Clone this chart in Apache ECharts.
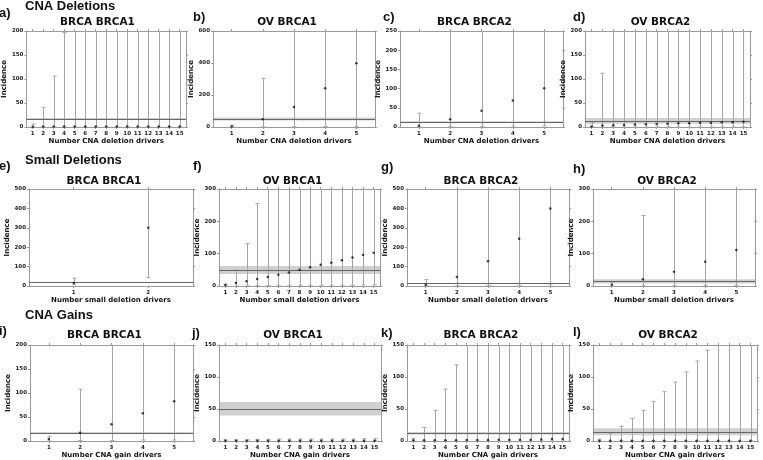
<!DOCTYPE html>
<html>
<head>
<meta charset="utf-8">
<script src="https://cdn.jsdelivr.net/npm/echarts@6/dist/echarts.min.js"></script>
<style>
  html, body { margin: 0; padding: 0; background: #fff; }
  #chart { width: 763px; height: 460px; }
</style>
</head>
<body>
<div id="chart"></div>
<script>
// panel meta
var sectionNames = ['CNA Deletions', 'Small Deletions', 'CNA Gains'];
var panelLetters = ['a)', 'b)', 'c)', 'd)', 'e)', 'f)', 'g)', 'h)', 'i)', 'j)', 'k)', 'l)'];
var panelTitles = ['BRCA BRCA1', 'OV BRCA1', 'BRCA BRCA2', 'OV BRCA2',
                   'BRCA BRCA1', 'OV BRCA1', 'BRCA BRCA2', 'OV BRCA2',
                   'BRCA BRCA1', 'OV BRCA1', 'BRCA BRCA2', 'OV BRCA2'];
var xAxisNames = ['Number CNA deletion drivers', 'Number small deletion drivers', 'Number CNA gain drivers'];
var driverCounts = [15, 5, 5, 15, 2, 15, 5, 5, 5, 15, 15, 15];
var yMaxes = [200, 600, 250, 200, 500, 300, 500, 300, 200, 150, 150, 150];
var yIntervals = [50, 200, 50, 50, 100, 100, 100, 100, 50, 50, 50, 50];

// expected incidence line and its band
var expectedMid = [17, 50, 13, 12, 17, 48, 14, 14, 17, 50, 12, 14];
var expectedLow = [15, 40, 11, 7, 15, 37, 12, 8, 15, 40, 10, 9];
var expectedHigh = [19, 60, 15, 19, 19, 62, 16, 21, 19, 61, 14, 20];

// observed points with lower / upper bounds
var aPoints = [0.5, 1, 1, 1, 1, 1, 1, 1, 1, 1, 1, 1, 1, 1, 1];
var aLow = [0, 0, 0, 0, 0, 0, 0, 0, 0, 0, 0, 0, 0, 0, 0];
var aHigh = [6, 41, 106, 197, 280, 350, 420, 500, 560, 640, 700, 780, 850, 920, 990];

var bPoints = [3, 48, 125, 242, 398];
var bLow = [0, 1, 2, 3, 4];
var bHigh = [12, 304, 700, 850, 1000];

var cPoints = [3, 20, 42, 69, 101];
var cLow = [0, 1, 1, 2, 3];
var cHigh = [36, 300, 380, 460, 560];

var dPoints = [1, 3, 3.5, 4, 5, 5.5, 6, 7, 8, 8, 9, 9, 10, 10, 11];
var dLow = [0, 0, 0, 0, 0, 0, 0, 0, 0, 0, 0, 0, 0, 0, 0];
var dHigh = [9, 112, 230, 280, 330, 380, 420, 470, 510, 560, 600, 650, 690, 740, 780];

var ePoints = [15, 300];
var eLow = [6, 43];
var eHigh = [40, 640];

var fPoints = [3, 9, 15, 22, 28, 35, 42, 50, 58, 66, 72, 80, 88, 96, 103];
var fLow = [0, 0, 1, 1, 1, 1, 1, 2, 2, 2, 2, 2, 2, 3, 3];
var fHigh = [6, 49, 131, 255, 390, 450, 520, 580, 640, 700, 760, 820, 880, 940, 1000];

var gPoints = [7, 46, 127, 244, 399];
var gLow = [1, 2, 3, 4, 5];
var gHigh = [33, 600, 750, 900, 1100];

var hPoints = [4, 21, 44, 75, 111];
var hLow = [0, 1, 1, 2, 2];
var hHigh = [12, 218, 340, 420, 520];

var iPoints = [4, 17, 35, 58, 83];
var iLow = [0, 1, 1, 2, 2];
var iHigh = [10, 108, 230, 300, 380];

var jPoints = [0.3, 0.3, 0.3, 0.3, 0.3, 0.3, 0.3, 0.3, 0.3, 0.3, 0.3, 0.3, 0.3, 0.3, 0.3];
var jLow = [0, 0, 0, 0, 0, 0, 0, 0, 0, 0, 0, 0, 0, 0, 0];
var jHigh = [2, 2, 2, 2.5, 2.5, 3, 3, 3, 3, 3, 3, 3, 3, 3.5, 3.5];

var kPoints = [1, 1, 1, 1, 1, 1.5, 1.5, 1.5, 2, 2, 2, 2, 2.5, 3, 3];
var kLow = [0, 0, 0, 0, 0, 0, 0, 0, 0, 0, 0, 0, 0, 0, 0];
var kHigh = [4, 21, 48, 81, 119, 160, 200, 240, 280, 320, 360, 400, 440, 480, 520];

var lPoints = [0.3, 0.3, 0.3, 0.3, 0.3, 0.3, 0.3, 0.3, 0.3, 0.3, 0.3, 0.3, 0.3, 0.3, 0.3];
var lLow = [0, 0, 0, 0, 0, 0, 0, 0, 0, 0, 0, 0, 0, 0, 0];
var lHigh = [3, 12.5, 23, 35, 48, 62, 77, 92, 108, 125, 142, 160, 178, 196, 215];

var panelPoints = [aPoints, bPoints, cPoints, dPoints, ePoints, fPoints, gPoints, hPoints, iPoints, jPoints, kPoints, lPoints];
var panelLow = [aLow, bLow, cLow, dLow, eLow, fLow, gLow, hLow, iLow, jLow, kLow, lLow];
var panelHigh = [aHigh, bHigh, cHigh, dHigh, eHigh, fHigh, gHigh, hHigh, iHigh, jHigh, kHigh, lHigh];

// layout (px)
var rowTops = [31, 189, 345];
var rowHeights = [96, 97, 96];
var colLefts = [[23, 213, 400, 585], [29, 219, 407, 593], [30, 219, 407, 593]];
var colRights = [[186, 375, 563, 750], [193, 380, 569, 755], [193, 381, 569, 757]];
var titleY = [22, 181, 335];
var sectionY = [6, 160, 315];
var letterPos = [[-1, 13], [193, 17], [383, 17], [573, 17],
                 [-1, 166], [193, 166], [381, 167], [573, 169],
                 [-1, 331], [192, 333], [381, 333], [573, 332]];

var FONT = 'DejaVu Sans';
var frameColor = '#9a9a9a';

var chart = echarts.init(document.getElementById('chart'));

function range(n) {
  var out = [];
  for (var k = 1; k <= n; k++) out.push(k);
  return out;
}

function renderErrorBar(params, api) {
  var x = api.value(0), lo = api.value(1), hi = api.value(2);
  var top = api.coord([x, hi]);
  var bot = api.coord([x, lo]);
  var cs = params.coordSys;
  var px = Math.round(top[0]) + 0.5;
  var yTop = Math.max(top[1], cs.y);
  var yBot = Math.min(bot[1], cs.y + cs.height);
  var style = { stroke: '#a5a5a5', lineWidth: 1 };
  var kids = [{ type: 'line', shape: { x1: px, y1: yTop, x2: px, y2: yBot }, style: style }];
  if (top[1] >= cs.y) {
    kids.push({ type: 'line', shape: { x1: px - 2, y1: yTop, x2: px + 2, y2: yTop }, style: style });
  }
  kids.push({ type: 'line', shape: { x1: px - 2, y1: yBot, x2: px + 2, y2: yBot }, style: style });
  return { type: 'group', children: kids };
}

var grids = [], xAxes = [], yAxes = [], series = [], graphics = [];

for (var p = 0; p < 12; p++) {
  var row = Math.floor(p / 4), col = p % 4;
  var left = colLefts[row][col], right = colRights[row][col];
  var n = driverCounts[p];
  grids.push({ left: left, top: rowTops[row], width: right - left, height: rowHeights[row],
               show: false, containLabel: false });

  var ticks = range(n);
  var tickStyle = { show: true, length: 2, inside: false, customValues: ticks, lineStyle: { color: frameColor } };
  xAxes.push({
    type: 'value', gridIndex: p, position: 'bottom', min: 0.4, max: n + 0.6,
    axisLine: { show: true, onZero: false, lineStyle: { color: frameColor } },
    axisTick: tickStyle,
    axisLabel: { show: true, customValues: ticks, margin: 4, fontSize: 5.5, fontWeight: 'bold', fontFamily: FONT, color: '#222' },
    splitLine: { show: false },
    name: xAxisNames[row], nameLocation: 'middle', nameGap: 10,
    nameTextStyle: { fontSize: 7, fontWeight: 'bold', fontFamily: FONT, color: '#111' }
  });
  xAxes.push({
    type: 'value', gridIndex: p, position: 'top', min: 0.4, max: n + 0.6,
    axisLine: { show: true, onZero: false, lineStyle: { color: frameColor } },
    axisTick: tickStyle,
    axisLabel: { show: false }, splitLine: { show: false }
  });
  yAxes.push({
    type: 'value', gridIndex: p, position: 'left', min: 0, max: yMaxes[p], interval: yIntervals[p],
    axisLine: { show: true, onZero: false, lineStyle: { color: frameColor } },
    axisTick: { show: true, length: 2, lineStyle: { color: frameColor } },
    axisLabel: { show: true, margin: 3, fontSize: 5.5, fontWeight: 'bold', fontFamily: FONT, color: '#222' },
    splitLine: { show: false },
    name: 'Incidence', nameLocation: 'middle', nameGap: 14,
    nameTextStyle: { fontSize: 7, fontWeight: 'bold', fontFamily: FONT, color: '#111' }
  });
  yAxes.push({
    type: 'value', gridIndex: p, position: 'right', min: 0, max: yMaxes[p], interval: yIntervals[p],
    axisLine: { show: true, onZero: false, lineStyle: { color: frameColor } },
    axisTick: { show: true, length: 2, lineStyle: { color: frameColor } },
    axisLabel: { show: false }, splitLine: { show: false }
  });

  var barData = [], pointData = [];
  for (var k = 0; k < n; k++) {
    barData.push([k + 1, panelLow[p][k], panelHigh[p][k]]);
    pointData.push([k + 1, panelPoints[p][k]]);
  }

  series.push({
    type: 'custom', xAxisIndex: 2 * p, yAxisIndex: 2 * p, renderItem: renderErrorBar,
    data: barData, silent: true, z: 3,
    markArea: {
      silent: true, itemStyle: { color: 'rgba(150,150,150,0.45)' },
      data: [[{ yAxis: expectedLow[p] }, { yAxis: expectedHigh[p] }]]
    },
    markLine: {
      silent: true, symbol: ['none', 'none'], label: { show: false },
      lineStyle: { color: '#666', width: 1, type: 'solid' },
      data: [{ yAxis: expectedMid[p] }]
    }
  });
  series.push({
    type: 'scatter', xAxisIndex: 2 * p, yAxisIndex: 2 * p, data: pointData,
    symbol: 'circle', symbolSize: 2.5, itemStyle: { color: '#111' }, silent: true, z: 5
  });

  graphics.push({
    type: 'text', x: (left + right) / 2 - 7, y: titleY[row],
    style: { text: panelTitles[p], font: 'bold 10.5px "DejaVu Sans"', fill: '#111', align: 'center', verticalAlign: 'middle' }
  });
  graphics.push({
    type: 'text', x: letterPos[p][0], y: letterPos[p][1],
    style: { text: panelLetters[p], font: 'bold 13px "Liberation Sans"', fill: '#111', align: 'left', verticalAlign: 'middle' }
  });
}

for (var r = 0; r < 3; r++) {
  graphics.push({
    type: 'text', x: 25, y: sectionY[r],
    style: { text: sectionNames[r], font: 'bold 13px "Liberation Sans"', fill: '#111', align: 'left', verticalAlign: 'middle' }
  });
}

chart.setOption({
  animation: false,
  backgroundColor: '#fff',
  grid: grids,
  xAxis: xAxes,
  yAxis: yAxes,
  series: series,
  graphic: graphics
});
</script>
</body>
</html>
